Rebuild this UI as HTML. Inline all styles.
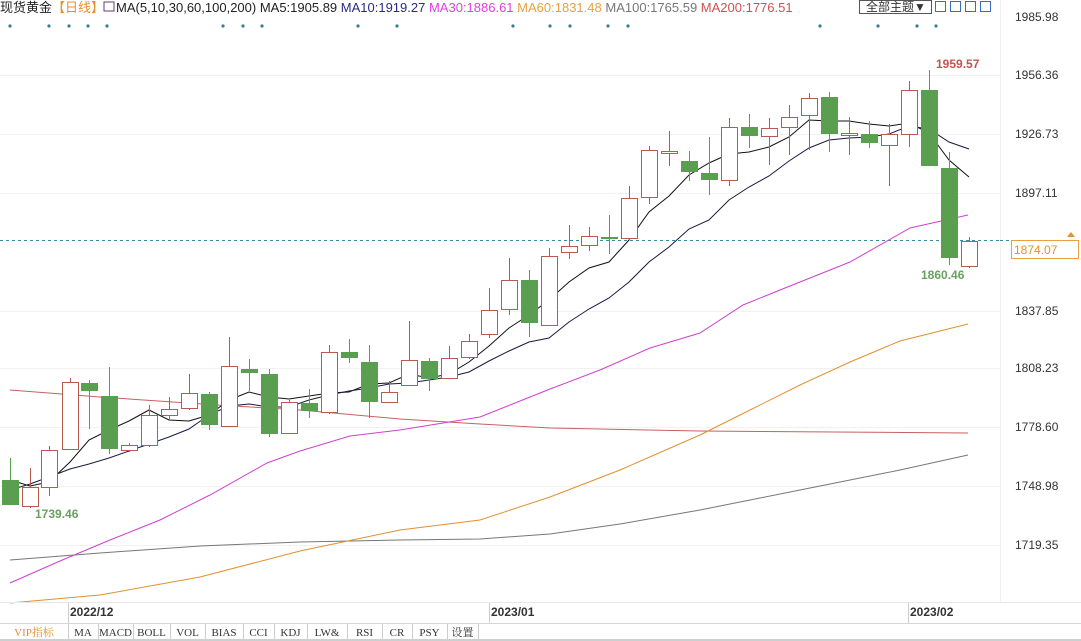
<!DOCTYPE html>
<html><head><meta charset="utf-8"><style>
body{margin:0;background:#fff;width:1081px;height:641px;overflow:hidden;font-family:"Liberation Sans","Noto Sans CJK SC",sans-serif}
svg{position:absolute;left:0;top:0}
</style></head><body>
<svg id="s" width="1081" height="641" xmlns="http://www.w3.org/2000/svg" font-family="Liberation Sans, Noto Sans CJK SC, sans-serif">
<rect x="0" y="0" width="1081" height="641" fill="#fff"/>
<g stroke="#f1f1f1" stroke-width="1">
<line x1="0" y1="75.5" x2="1000" y2="75.5"/><line x1="0" y1="134.5" x2="1000" y2="134.5"/><line x1="0" y1="193.5" x2="1000" y2="193.5"/>
<line x1="0" y1="311.5" x2="1000" y2="311.5"/><line x1="0" y1="368.5" x2="1000" y2="368.5"/><line x1="0" y1="427.5" x2="1000" y2="427.5"/>
<line x1="0" y1="486.5" x2="1000" y2="486.5"/><line x1="0" y1="545.5" x2="1000" y2="545.5"/>
<line x1="1000.5" y1="0" x2="1000.5" y2="602"/>
</g>
<text x="0" y="12" font-size="13" fill="#222">现货黄金<tspan fill="#e8902a">【日线】</tspan></text>
<rect x="104" y="2" width="10" height="9" fill="none" stroke="#6a3a7a"/>
<text x="116" y="12" font-size="13" fill="#222">MA(5,10,30,60,100,200) MA5:1905.89 <tspan fill="#2a2a8a">MA10:1919.27</tspan> <tspan fill="#e040e0">MA30:1886.61</tspan> <tspan fill="#e8a040">MA60:1831.48</tspan> <tspan fill="#777">MA100:1765.59</tspan> <tspan fill="#d05050">MA200:1776.51</tspan></text>
<rect x="859.5" y="0.5" width="72" height="13" fill="#fff" stroke="#555"/>
<text x="866" y="11" font-size="12" fill="#333">全部主题▼</text>
<g fill="none" stroke="#3a6ad0"><rect x="935.5" y="1.5" width="10" height="10"/><rect x="950.5" y="1.5" width="10" height="10"/><rect x="965.5" y="1.5" width="10" height="10"/><rect x="980.5" y="1.5" width="10" height="10"/></g>
<g id="dots" fill="#3a7a9a"></g>
<g font-size="12" fill="#333">
<text x="1015" y="21">1985.98</text><text x="1015" y="79">1956.36</text><text x="1015" y="138">1926.73</text><text x="1015" y="197">1897.11</text>
<text x="1015" y="315">1837.85</text><text x="1015" y="372">1808.23</text><text x="1015" y="431">1778.60</text><text x="1015" y="490">1748.98</text><text x="1015" y="549">1719.35</text>
</g>
<line x1="0" y1="240.5" x2="1000" y2="240.5" stroke="#3a8aa0" stroke-dasharray="3,3"/>
<line x1="1000" y1="240.5" x2="1075" y2="240.5" stroke="#3a8aa0" stroke-dasharray="3,3"/>
<rect x="1011.5" y="240.5" width="67" height="18" fill="#fff" stroke="#e8a040"/>
<text x="1014" y="254" font-size="12" fill="#e8902a">1874.07</text>
<path d="M1071 232 L1075 237 L1067 237Z" fill="#e8902a"/>
<g id="mas" fill="none" stroke-width="1"></g>
<g id="cd"></g>
<text x="936" y="68" font-size="12" font-weight="bold" fill="#c85050">1959.57</text>
<text x="921" y="279" font-size="12" font-weight="bold" fill="#6aa060">1860.46</text>
<text x="35" y="518" font-size="12" font-weight="bold" fill="#6aa060">1739.46</text>
<line x1="0" y1="602.5" x2="1081" y2="602.5" stroke="#e8e8e8"/>
<line x1="0" y1="623.5" x2="1081" y2="623.5" stroke="#d0d8d8"/>
<g font-size="12" font-weight="bold" fill="#333"><text x="70" y="616">2022/12</text><text x="491" y="616">2023/01</text><text x="910" y="616">2023/02</text></g>
<g stroke="#ccc"><line x1="68.5" y1="603" x2="68.5" y2="623"/><line x1="489.5" y1="603" x2="489.5" y2="623"/><line x1="908.5" y1="603" x2="908.5" y2="623"/></g>
<rect x="0" y="639" width="1081" height="2" fill="#c8d0d0"/>
<g id="tb" font-size="11" fill="#333" font-family="Liberation Serif, Noto Serif CJK SC, serif"></g>
</svg>
<script>
const NS="http://www.w3.org/2000/svg";
function el(p,t,a,txt){const e=document.createElementNS(NS,t);for(const k in a)e.setAttribute(k,a[k]);if(txt)e.textContent=txt;document.getElementById(p).appendChild(e);}
[10,49,69,88,107,223,243,262,358,397,513,550,570,608,628,820,878,917,936].forEach(x=>el("dots","circle",{cx:x,cy:26,r:1.6}));
const C=[[10,'g',480,505,458,505],[30,'r',487,506,468,508],[49,'r',450,487,446,496],[70,'r',382,449,378,450],[89,'g',383,391,380,429],[109,'g',396,449,367,454],[129,'r',445,450,443,452],[149,'r',415,445,405,447],[169,'r',409,415,397,420],[189,'r',393,408,374,410],[209,'g',394,425,392,430],[229,'r',366,426,337,427],[249,'g',369,373,359,391],[269,'g',374,434,369,437],[289,'r',402,433,400,434],[309,'g',403,411,389,418],[329,'r',352,412,345,414],[349,'g',352,358,339,363],[369,'g',362,402,345,418],[389,'r',392,402,381,403],[409,'r',360,385,321,386],[429,'g',361,379,358,391],[449,'r',358,378,346,379],[469,'r',341,357,334,359],[489,'r',310,334,288,338],[509,'r',280,309,258,315],[529,'g',280,323,270,337],[549,'r',256,325,248,326],[569,'r',246,252,225,259],[589,'r',236,245,227,251],[609,'g',237,239,215,254],[629,'r',198,238,186,240],[649,'r',150,197,146,204],[669,'r',151,153,131,166],[689,'g',161,172,151,181],[709,'g',173,180,137,195],[729,'r',127,180,118,186],[749,'g',127,136,114,148],[769,'r',128,136,118,165],[789,'r',117,127,105,155],[809,'r',98,115,93,150],[829,'g',97,134,92,152],[849,'r',133,135,117,155],[869,'g',134,143,121,148],[889,'r',134,145,124,186],[909,'r',90,134,81,147],[929,'g',90,166,70,166],[949,'g',168,258,152,265],[969,'r',241,266,237,268]];
C.forEach(([x,c,t,b,h,l])=>{const col=c=='g'?'#5a9e50':'#b85a50';
el("cd","line",{x1:x+.5,y1:h,x2:x+.5,y2:l,stroke:col});
if(c=='g')el("cd","rect",{x:x-8,y:t,width:17,height:Math.max(1,b-t),fill:'#5a9e50'});
else el("cd","rect",{x:x-7.5,y:t+.5,width:16,height:Math.max(1,b-t),fill:'#fff',stroke:col});});
function P(pts,col,w){el("mas","polyline",{points:pts,stroke:col,"stroke-width":w||1});}
P("10,390 100,397 217,405 300,410 400,419 480,424 550,428 700,431 968,433","#c86060");
P("10,560 100,553 200,546 300,542 400,540 480,539 550,534 620,524 700,510 750,500 800,490 850,480 900,470 968,455","#777");
P("10,603 100,595 200,577 300,551 400,530 480,520 550,497 620,470 700,435 750,410 800,385 850,362 900,341 968,324","#e09030");
P("10,583 60,561 110,540 160,520 210,495 267,463 300,451 350,436 400,430 480,417 550,389 600,370 650,348 700,333 743,305 780,290 850,262 910,228 968,215","#d040d0");
P("10,480 30,486 49,482 70,462 89,440 109,430 129,421 149,410 169,420 189,421 209,415 229,400 249,392 269,397 289,399 309,396 329,393 349,392 369,384 389,383 409,374 429,378 449,374 469,362 489,346 509,328 529,315 549,300 569,282 589,268 609,262 629,240 649,212 669,196 689,175 709,163 729,154 749,152 769,147 789,137 809,120 829,121 849,121 869,124 889,126 909,123 929,133 949,160 969,177","#111");
P("10,490 30,484 49,477 70,469 89,464 109,458 129,451 149,444 169,437 189,429 209,415 229,406 249,404 269,407 289,407 309,400 329,395 349,391 369,388 389,384 409,383 429,380 449,377 469,372 489,361 509,351 529,342 549,338 569,322 589,309 609,298 629,282 649,262 669,247 689,229 709,220 729,200 749,187 769,176 789,161 809,148 829,140 849,138 869,137 889,134 909,126 929,129 949,142 969,149","#1a1a40");
const T=[["VIP指标",68,"#e09030"],["MA",98],["MACD",133],["BOLL",170],["VOL",205],["BIAS",243],["CCI",274],["KDJ",307],["LW&",347],["RSI",382],["CR",412],["PSY",447],["设置",478]];
let x0=0;T.forEach(([t,x1,c])=>{el("tb","text",{x:(x0+x1)/2,y:636,"text-anchor":"middle",fill:c||"#333"},t);el("tb","line",{x1:x1+.5,y1:624,x2:x1+.5,y2:639,stroke:"#ccc"});x0=x1;});
</script>
</body></html>
